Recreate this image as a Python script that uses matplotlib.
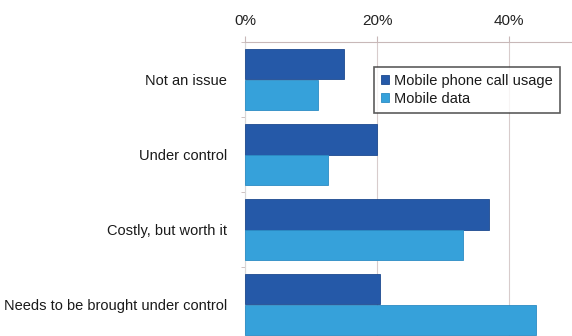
import numpy as np
import matplotlib.pyplot as plt

plt.rcParams['font.family'] = ['Liberation Sans', 'DejaVu Sans']

categories = ['Not an issue', 'Under control', 'Costly, but worth it',
              'Needs to be brought under control']
call_usage = [15, 20, 37, 20.5]
mobile_data = [11, 12.5, 33, 44]
series_names = ['Mobile phone call usage', 'Mobile data']
xticks = [0, 20, 40]

dark = '#2559a8'
light = '#36a1da'

fig = plt.figure(figsize=(5.72, 3.36), dpi=100)
ax = fig.add_axes([245 / 572, -6 / 336, 1 - 245 / 572, 300 / 336])

y = np.arange(len(categories))
h = 0.413
ax.barh(y - h / 2, call_usage, height=h, color=dark, edgecolor='#1d4a8f',
        linewidth=0.6, label=series_names[0], zorder=3)
ax.barh(y + h / 2, mobile_data, height=h, color=light, edgecolor='#2b8cc4',
        linewidth=0.6, label=series_names[1], zorder=3)

ax.set_ylim(len(categories) - 0.5, -0.5)
ax.set_xlim(0, 49.5)

ax.xaxis.tick_top()
ax.set_xticks(xticks)
ax.set_xticklabels([f'{t}%' for t in xticks], fontsize=11, color='#222222')
ax.tick_params(axis='x', length=4, color='#c8b8b8', pad=6)
ax.grid(axis='x', color='#d8cccc', linewidth=0.8, zorder=0)

ax.set_yticks(y)
ax.set_yticklabels(categories, fontsize=10.5, color='#1a1a1a')
ax.set_yticks(np.arange(len(categories) + 1) - 0.5, minor=True)
ax.tick_params(axis='y', which='major', length=0, pad=13)
ax.tick_params(axis='y', which='minor', length=3, color='#c8b8b8')

for side in ['right', 'bottom']:
    ax.spines[side].set_visible(False)
ax.spines['top'].set_color('#c8b8b8')
ax.spines['left'].set_color('#d8d8d8')

leg = ax.legend(loc='upper left', bbox_to_anchor=((374 - 245) / 327, 1 - 25 / 300),
                fontsize=10.5, frameon=True, fancybox=False, handlelength=0.6,
                handleheight=0.6, handletextpad=0.35, borderpad=0.45,
                labelspacing=0.3, borderaxespad=0)
leg.get_frame().set_edgecolor('#333333')
leg.get_frame().set_linewidth(1.2)
for t in leg.get_texts():
    t.set_color('#1a1a1a')

plt.savefig('out.png', dpi=100)
